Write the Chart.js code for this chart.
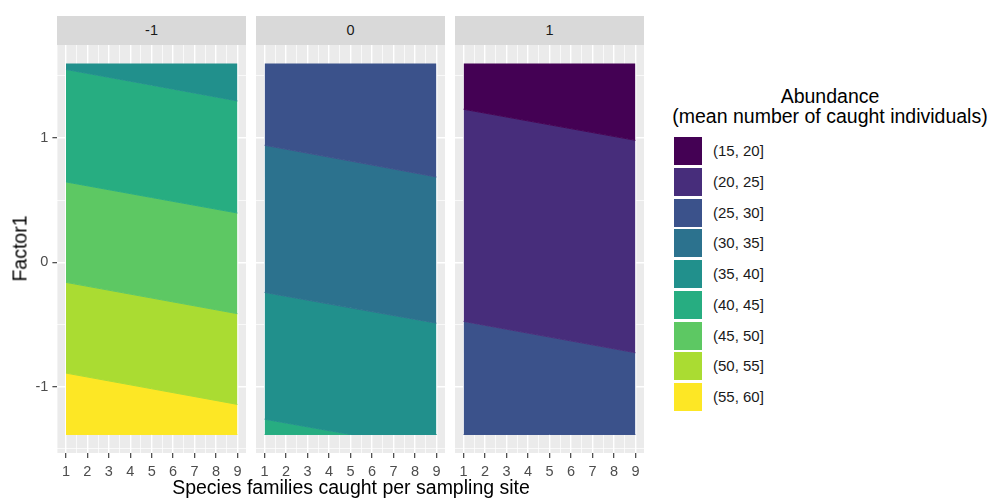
<!DOCTYPE html>
<html lang="en">
<head>
<meta charset="utf-8">
<title>Abundance by species families and Factor1</title>
<script src="https://cdn.jsdelivr.net/npm/chart.js@4.4.1/dist/chart.umd.min.js"></script>
<style>
  html, body { margin: 0; padding: 0; background: #ffffff; }
  body { position: relative; width: 989px; height: 500px; overflow: hidden;
         font-family: "Liberation Sans", Arial, Helvetica, sans-serif; }
  canvas { position: absolute; top: 45px; }
  .strip { position: absolute; top: 16px; height: 29px; line-height: 29px; background: #d9d9d9;
           color: #1a1a1a; font-size: 14.5px; text-align: center; }
  .title { position: absolute; color: #000000; font-size: 19.5px; line-height: 21px; white-space: nowrap; text-align: center; }
  .key { position: absolute; left: 674px; width: 28px; height: 28px; }
  .keylab { position: absolute; left: 713px; height: 28px; line-height: 28px; font-size: 15px; color: #1a1a1a; white-space: nowrap; }
</style>
</head>
<body>
<div class="strip" id="strip0" style="left:57px;width:189px;"></div>
<div class="strip" id="strip1" style="left:256px;width:189px;"></div>
<div class="strip" id="strip2" style="left:455px;width:189px;"></div>

<canvas id="panel0" width="246" height="455" style="left:0px;"></canvas>
<canvas id="panel1" width="189" height="455" style="left:256px;"></canvas>
<canvas id="panel2" width="189" height="455" style="left:455px;"></canvas>

<div class="title" style="left:-80px;top:238px;width:200px;transform:rotate(-90deg);">Factor1</div>
<div class="title" style="left:151px;top:477px;width:400px;">Species families caught per sampling site</div>
<div class="title" style="left:670px;top:86px;width:320px;line-height:20px;">Abundance<br>(mean number of caught individuals)</div>
<div id="legend"></div>

<script>
// Facets, abundance classes and their viridis colours
const facetLabels = ['-1', '0', '1'];
const abundanceLevels = ['(15, 20]', '(20, 25]', '(25, 30]', '(30, 35]', '(35, 40]',
                         '(40, 45]', '(45, 50]', '(50, 55]', '(55, 60]'];
const levelColors = ['#440154', '#472d7b', '#3b528b', '#2c728e', '#21908c',
                     '#27ad81', '#5dc863', '#aadc32', '#fde725'];

// Axis breaks
const xBreaks = [1, 2, 3, 4, 5, 6, 7, 8, 9];
const xMinorBreaks = [1.5, 2.5, 3.5, 4.5, 5.5, 6.5, 7.5, 8.5];
const yBreaks = [-1, 0, 1];
const yMinorBreaks = [-1.5, -0.5, 0.5, 1.5];

// Species families at which each contour edge is sampled
const edgeX = [1, 5, 9];

// Factor1 of every contour edge at edgeX, from the top edge down to the bottom edge
const facetM1Bands = ['(35, 40]', '(40, 45]', '(45, 50]', '(50, 55]', '(55, 60]'];
const facetM1Edges = [
  [1.600, 1.600, 1.600],
  [1.552, 1.426, 1.299],
  [0.647, 0.522, 0.397],
  [-0.161, -0.287, -0.413],
  [-0.891, -1.017, -1.143],
  [-1.385, -1.385, -1.385]
];

const facet0Bands = ['(25, 30]', '(30, 35]', '(35, 40]', '(40, 45]'];
const facet0Edges = [
  [1.600, 1.600, 1.600],
  [0.942, 0.815, 0.687],
  [-0.242, -0.366, -0.489],
  [-1.262, -1.385, -1.385],
  [-1.385, -1.385, -1.385]
];

const facet1Bands = ['(15, 20]', '(20, 25]', '(25, 30]'];
const facet1Edges = [
  [1.600, 1.600, 1.600],
  [1.232, 1.107, 0.982],
  [-0.475, -0.601, -0.727],
  [-1.385, -1.385, -1.385]
];

Chart.defaults.font.family = '"Liberation Sans", Arial, Helvetica, sans-serif';

// grey panel background behind the grid
const panelBackground = {
  id: 'panelBackground',
  beforeDraw(chart) {
    const { ctx, chartArea: a } = chart;
    ctx.save();
    ctx.fillStyle = '#ebebeb';
    ctx.fillRect(a.left, a.top, a.right - a.left, a.bottom - a.top);
    ctx.restore();
  }
};

const isMajor = (ctx, breaks) => !!(ctx.tick && breaks.includes(ctx.tick.value));
const allTicks = (major, minor) => major.concat(minor).sort((a, b) => a - b).map(v => ({ value: v }));

function drawFacet(canvasId, edges, bands, withYAxis) {
  const datasets = edges.map((ys, i) => {
    const colour = i === 0 ? 'rgba(0,0,0,0)' : levelColors[abundanceLevels.indexOf(bands[i - 1])];
    return {
      label: i === 0 ? 'top' : bands[i - 1],
      data: edgeX.map((x, j) => ({ x: x, y: ys[j] })),
      fill: i === 0 ? false : '-1',
      backgroundColor: colour,
      borderColor: colour,
      borderWidth: i === 0 ? 0 : 1,
      pointRadius: 0,
      pointHoverRadius: 0,
      tension: 0
    };
  });

  new Chart(document.getElementById(canvasId), {
    type: 'line',
    data: { datasets: datasets },
    plugins: [panelBackground],
    options: {
      responsive: false,
      animation: false,
      events: [],
      layout: { padding: 0 },
      plugins: { legend: { display: false }, tooltip: { enabled: false } },
      scales: {
        x: {
          type: 'linear',
          min: 0.6,
          max: 9.4,
          afterBuildTicks: s => { s.ticks = allTicks(xBreaks, xMinorBreaks); },
          afterFit: s => { s.height = 47; s.paddingLeft = 0; s.paddingRight = 0; },
          border: { display: false },
          grid: {
            color: '#ffffff',
            lineWidth: c => isMajor(c, xBreaks) ? 1.4 : 0.7,
            drawTicks: true,
            tickLength: 5,
            tickWidth: 1.1,
            tickColor: c => isMajor(c, xBreaks) ? '#333333' : 'rgba(0,0,0,0)'
          },
          ticks: {
            autoSkip: false, maxRotation: 0, minRotation: 0, padding: 5,
            color: '#4d4d4d', font: { size: 14.5 },
            callback: v => xBreaks.includes(v) ? String(v) : ''
          }
        },
        y: {
          type: 'linear',
          min: -1.534,
          max: 1.749,
          afterBuildTicks: s => { s.ticks = allTicks(yBreaks, yMinorBreaks); },
          afterFit: s => { s.width = withYAxis ? 57.4 : 0; s.paddingTop = 0; s.paddingBottom = 0; },
          border: { display: false },
          grid: {
            color: '#ffffff',
            lineWidth: c => isMajor(c, yBreaks) ? 1.4 : 0.7,
            drawTicks: withYAxis,
            tickLength: 5,
            tickWidth: 1.1,
            tickColor: c => isMajor(c, yBreaks) ? '#333333' : 'rgba(0,0,0,0)'
          },
          ticks: {
            display: withYAxis, padding: 4,
            color: '#4d4d4d', font: { size: 14.5 },
            callback: v => yBreaks.includes(v) ? String(v) : ''
          }
        }
      }
    }
  });
}

facetLabels.forEach((lab, i) => { document.getElementById('strip' + i).textContent = lab; });

drawFacet('panel0', facetM1Edges, facetM1Bands, true);
drawFacet('panel1', facet0Edges, facet0Bands, false);
drawFacet('panel2', facet1Edges, facet1Bands, false);

// legend keys
const legend = document.getElementById('legend');
abundanceLevels.forEach((lab, i) => {
  const top = 137 + i * 30.75;
  const key = document.createElement('div');
  key.className = 'key';
  key.style.top = top + 'px';
  key.style.background = levelColors[i];
  legend.appendChild(key);
  const text = document.createElement('div');
  text.className = 'keylab';
  text.style.top = top + 'px';
  text.textContent = lab;
  legend.appendChild(text);
});
</script>
</body>
</html>
